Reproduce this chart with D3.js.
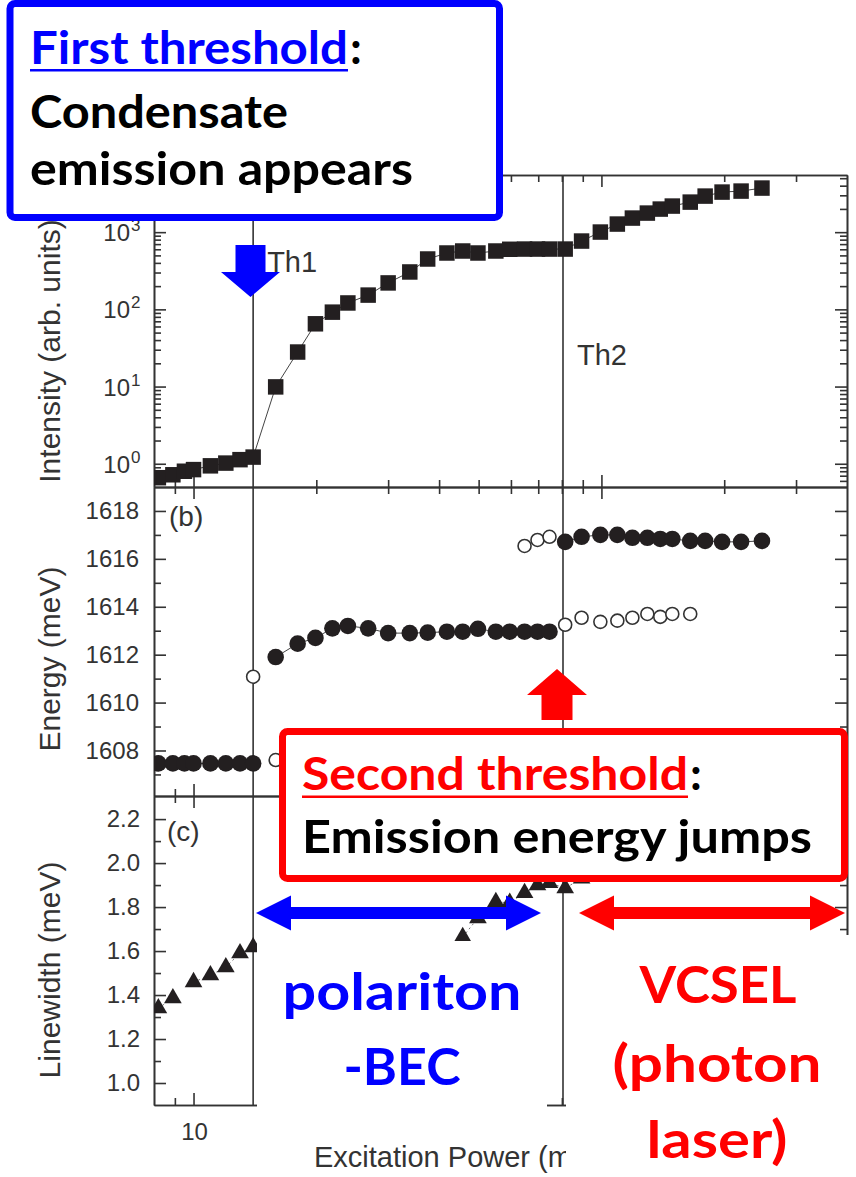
<!DOCTYPE html>
<html>
<head>
<meta charset="utf-8">
<script src="https://cdn.jsdelivr.net/npm/d3@7"></script>
<style>
  html, body { margin: 0; padding: 0; background: #fff; }
  svg { display: block; }
</style>
</head>
<body>
<div id="chart"></div>
<script>
// ---- data ----
const power = [8.2, 8.9, 9.5, 10.0, 11.0, 12.0, 13.0, 14.0, 15.9, 18.0, 19.9, 21.9, 23.9, 26.8, 30.0, 33.9,
  37.5, 41.8, 45.7, 49.8, 55.1, 59.6, 64.8, 69.7, 74.6, 81.5, 89.4, 99.4, 109.4, 119.1, 129.6, 139.4,
  149.2, 165.1, 179.6, 197.6, 220.0, 247.5];

const intensity = [0.66, 0.72, 0.80, 0.84, 0.94, 1.02, 1.13, 1.22, 9.9, 28, 65, 92, 121, 153, 220, 305,
  449, 537, 570, 537, 570, 600, 604, 604, 604, 604, 767, 1003, 1273, 1522, 1766, 1990,
  2177, 2450, 2931, 3304, 3404, 3724];

const energyFilled = [1607.46, 1607.46, 1607.46, 1607.46, 1607.46, 1607.46, 1607.46, 1607.46,
  1611.9, 1612.46, 1612.7, 1613.1, 1613.2, 1613.1, 1612.9, 1612.9, 1612.92, 1612.96, 1612.96,
  1613.08, 1612.96, 1612.96, 1612.96, 1612.96, 1612.96,
  1616.71, 1616.92, 1617.0, 1617.0, 1616.88, 1616.88, 1616.83, 1616.83, 1616.75, 1616.75,
  1616.71, 1616.71, 1616.75];

const energyOpen = [null, null, null, null, null, null, null, 1611.08, 1607.6, null, null, null, null, null, null, null,
  null, null, null, null, null, null, 1616.54, 1616.79, 1616.92, 1613.25, 1613.54, 1613.37, 1613.42, 1613.54, 1613.7, 1613.58,
  1613.7, 1613.7, null, null, null, null];

const linewidth = [1.34, 1.386, null, 1.459, 1.49, 1.527, 1.59, 1.618, null, null, null, null, null, null, null, null,
  null, null, 1.664, 1.75, 1.823, 1.82, 1.864, 1.9, 1.91, 1.886, 1.93, null, null, null, null, null,
  null, null, null, null, null, null];

const thresholds = [14, 80.5];
const thresholdNames = ["Th1", "Th2"];

const intensityTicks = [1, 10, 100, 1000];
const intensityExp = ["0", "1", "2", "3"];
const energyTicks = [1608, 1610, 1612, 1614, 1616, 1618];
const linewidthTicks = [1.0, 1.2, 1.4, 1.6, 1.8, 2.0, 2.2];
const powerTicks = [10, 100];
const powerMinor = [9, 20, 30, 40, 50, 60, 70, 80, 90, 200, 300];

// ---- layout ----
const W = 856, H = 1177;
const left = 154, right = 847;
const tops = [175, 487, 796], bottom = 1105;
const ink = "#333";
const figFont = "'Liberation Sans', Arial, sans-serif";
const noteFont = "Lato, 'Open Sans', sans-serif";
const blue = "#0000ff", red = "#ff0000";
const tickFont = 24;

const svg = d3.select("#chart").append("svg")
    .attr("width", W).attr("height", H)
    .attr("viewBox", `0 0 ${W} ${H}`);

const x = d3.scaleLog().domain([8, 400]).range([left, right]);
const yA = d3.scaleLog().domain([0.5, 5500]).range([tops[1], tops[0]]);
const yB = d3.scaleLinear().domain([1606.1, 1619]).range([tops[2], tops[1]]);
const yC = d3.scaleLinear().domain([0.9, 2.305]).range([bottom, tops[2]]);

const logMinor = [];
[0.1, 1, 10, 100, 1000].forEach(d => d3.range(2, 10).forEach(k => {
  const v = d * k;
  if (v > 0.5 && v < 5500) logMinor.push(v);
}));

// clip paths per panel
const defs = svg.append("defs");
[[tops[0], tops[1]], [tops[1], tops[2]], [tops[2], bottom]].forEach((p, i) => {
  defs.append("clipPath").attr("id", "clip" + i)
    .append("rect").attr("x", left).attr("y", p[0]).attr("width", right - left).attr("height", p[1] - p[0]);
});

function frame(y, yMajor, yMinor, top, bot) {
  const g = svg.append("g").attr("color", ink).attr("stroke-width", 1.6);
  const opts = (ax, vals, len) => ax.tickValues(vals).tickSize(-len).tickSizeOuter(0).tickFormat("");
  g.append("g").attr("transform", `translate(0,${bot})`).call(opts(d3.axisBottom(x), powerMinor, 7));
  g.append("g").attr("transform", `translate(0,${bot})`).call(opts(d3.axisBottom(x), powerTicks, 12));
  g.append("g").attr("transform", `translate(0,${top})`).call(opts(d3.axisTop(x), powerMinor, 7));
  g.append("g").attr("transform", `translate(0,${top})`).call(opts(d3.axisTop(x), powerTicks, 12));
  g.append("g").attr("transform", `translate(${left},0)`).call(opts(d3.axisLeft(y), yMinor, 7));
  g.append("g").attr("transform", `translate(${left},0)`).call(opts(d3.axisLeft(y), yMajor, 12));
  g.append("g").attr("transform", `translate(${right},0)`).call(opts(d3.axisRight(y), yMinor, 7));
  g.append("g").attr("transform", `translate(${right},0)`).call(opts(d3.axisRight(y), yMajor, 12));
  g.selectAll("path.domain").attr("stroke-width", 1.6);
  return g;
}

frame(yA, intensityTicks, logMinor, tops[0], tops[1]);
frame(yB, energyTicks, [1607, 1609, 1611, 1613, 1615, 1617], tops[1], tops[2]);
frame(yC, linewidthTicks, [1.1, 1.3, 1.5, 1.7, 1.9, 2.1], tops[2], bottom);

// tick labels
const lab = svg.append("g").attr("font-family", figFont).attr("fill", ink);
intensityTicks.forEach((v, i) => {
  lab.append("text").attr("x", 130).attr("y", yA(v) + 9).attr("text-anchor", "end")
    .attr("font-size", tickFont).text("10");
  lab.append("text").attr("x", 131).attr("y", yA(v) - 1).attr("font-size", 17).text(intensityExp[i]);
});
energyTicks.forEach(v => {
  lab.append("text").attr("x", 139).attr("y", yB(v)).attr("dy", "0.35em").attr("text-anchor", "end")
    .attr("font-size", tickFont).text(v);
});
linewidthTicks.forEach(v => {
  lab.append("text").attr("x", 140).attr("y", yC(v)).attr("dy", "0.35em").attr("text-anchor", "end")
    .attr("font-size", tickFont).text(d3.format(".1f")(v));
});
powerTicks.forEach(v => {
  lab.append("text").attr("x", x(v) + 1).attr("y", bottom + 35).attr("text-anchor", "middle")
    .attr("font-size", tickFont).text(v);
});

// axis titles
[["Intensity (arb. units)", 351], ["Energy (meV)", 659], ["Linewidth (meV)", 970]].forEach(([t, cy]) => {
  lab.append("text").attr("transform", `translate(60,${cy}) rotate(-90)`)
    .attr("text-anchor", "middle").attr("font-size", 30).text(t);
});
lab.append("text").attr("x", 314).attr("y", 1167).attr("font-size", 29).text("Excitation Power (mW)");
lab.append("text").attr("x", 169).attr("y", 526).attr("font-size", 28).text("(b)");
lab.append("text").attr("x", 167).attr("y", 841).attr("font-size", 28).text("(c)");

// threshold lines
svg.append("g").selectAll("line").data(thresholds).join("line")
    .attr("x1", d => x(d)).attr("x2", d => x(d))
    .attr("y1", tops[0]).attr("y2", bottom)
    .attr("stroke", ink).attr("stroke-width", 1.6);
lab.append("text").attr("x", x(thresholds[0]) + 14).attr("y", 272).attr("font-size", 29).text(thresholdNames[0]);
lab.append("text").attr("x", x(thresholds[1]) + 14).attr("y", 365).attr("font-size", 29).text(thresholdNames[1]);

// ---- data marks ----
const pts = (vals) => power.map((p, i) => ({ p, v: vals[i] })).filter(d => d.v != null);
const all = (vals) => power.map((p, i) => ({ p, v: vals[i] }));

// (a) intensity
const gA = svg.append("g").attr("clip-path", "url(#clip0)");
gA.append("path").datum(pts(intensity))
    .attr("fill", "none").attr("stroke", "#444").attr("stroke-width", 1)
    .attr("d", d3.line().x(d => x(d.p)).y(d => yA(d.v)));
gA.selectAll("path.sq").data(pts(intensity)).join("path").attr("class", "sq")
    .attr("transform", d => `translate(${x(d.p)},${yA(d.v)})`)
    .attr("d", d3.symbol(d3.symbolSquare, 240))
    .attr("fill", "#231f20");

// (b) energy
const gB = svg.append("g").attr("clip-path", "url(#clip1)");
const filledPts = pts(energyFilled);
gB.selectAll("line.seg").data(d3.pairs(filledPts).filter(([a, b]) => Math.abs(a.v - b.v) < 1)).join("line")
    .attr("class", "seg")
    .attr("x1", d => x(d[0].p)).attr("y1", d => yB(d[0].v))
    .attr("x2", d => x(d[1].p)).attr("y2", d => yB(d[1].v))
    .attr("stroke", "#444").attr("stroke-width", 1);
gB.selectAll("circle.open").data(pts(energyOpen)).join("circle").attr("class", "open")
    .attr("cx", d => x(d.p)).attr("cy", d => yB(d.v)).attr("r", 6.5)
    .attr("fill", "#fff").attr("stroke", "#333").attr("stroke-width", 1.6);
gB.selectAll("circle.full").data(filledPts).join("circle").attr("class", "full")
    .attr("cx", d => x(d.p)).attr("cy", d => yB(d.v)).attr("r", 8.3)
    .attr("fill", "#231f20");

// (c) linewidth
const gC = svg.append("g").attr("clip-path", "url(#clip2)");
gC.append("path").datum(all(linewidth))
    .attr("fill", "none").attr("stroke", "#555").attr("stroke-width", 0.8).attr("stroke-dasharray", "2,3")
    .attr("d", d3.line().defined(d => d.v != null).x(d => x(d.p)).y(d => yC(d.v)));
gC.selectAll("path.tri").data(pts(linewidth)).join("path").attr("class", "tri")
    .attr("transform", d => `translate(${x(d.p)},${yC(d.v)})`)
    .attr("d", d3.symbol(d3.symbolTriangle, 135))
    .attr("fill", "#231f20");

// white cover patches over the lower panel
svg.append("rect").attr("x", 257).attr("y", 941).attr("width", 290).attr("height", 169).attr("fill", "#fff");
svg.append("rect").attr("x", 566).attr("y", 935).attr("width", W - 566).attr("height", H - 935).attr("fill", "#fff");

// ---- annotations ----
svg.append("rect").attr("x", 10).attr("y", 3.5).attr("width", 489.5).attr("height", 214).attr("rx", 5)
    .attr("fill", "#fff").attr("stroke", blue).attr("stroke-width", 7);
svg.append("rect").attr("x", 282.5).attr("y", 731.5).attr("width", 562).attr("height", 147).attr("rx", 5)
    .attr("fill", "#fff").attr("stroke", red).attr("stroke-width", 7);

function note(t, xx, yy, size, color, width, anchor) {
  const s = svg.append("text").attr("x", xx).attr("y", yy)
      .attr("font-family", noteFont).attr("font-weight", 700)
      .attr("font-size", size).attr("fill", color)
      .attr("text-anchor", anchor || "start").text(t);
  if (width) s.attr("textLength", width).attr("lengthAdjust", "spacingAndGlyphs");
  return s;
}

note("First threshold", 30, 64, 46, blue, 318);
svg.append("rect").attr("x", 30).attr("y", 69).attr("width", 318).attr("height", 2.5).attr("fill", blue);
note(":", 350, 64, 46, "#000");
note("Condensate", 30, 128, 46, "#000", 258);
note("emission appears", 30, 185, 46, "#000", 383);

note("Second threshold", 302, 790, 46, red, 386);
svg.append("rect").attr("x", 302).attr("y", 795.5).attr("width", 386).attr("height", 2.5).attr("fill", red);
note(":", 690, 790, 46, "#000");
note("Emission energy jumps", 302, 853, 46, "#000", 510);

note("polariton", 402, 1010, 52, blue, 239, "middle");
note("-BEC", 402, 1085, 52, blue, 117, "middle");
note("VCSEL", 718, 1003, 52, red, 157, "middle");
note("(photon", 717, 1082, 52, red, 209, "middle");
note("laser)", 717, 1158, 52, red, 141, "middle");

// arrows
function doubleArrow(x1, x2, yc, color) {
  const h = 35, hh = 17.5, sh = 6;
  const p = d3.path();
  p.moveTo(x1, yc); p.lineTo(x1 + h, yc - hh); p.lineTo(x1 + h, yc - sh);
  p.lineTo(x2 - h, yc - sh); p.lineTo(x2 - h, yc - hh); p.lineTo(x2, yc);
  p.lineTo(x2 - h, yc + hh); p.lineTo(x2 - h, yc + sh); p.lineTo(x1 + h, yc + sh);
  p.lineTo(x1 + h, yc + hh); p.closePath();
  svg.append("path").attr("d", p.toString()).attr("fill", color);
}
doubleArrow(256, 541, 913, blue);
doubleArrow(579, 845, 913, red);

function blockArrow(cx, tipY, headY, endY, headHalf, shaftHalf, color) {
  const p = d3.path();
  p.moveTo(cx, tipY); p.lineTo(cx + headHalf, headY); p.lineTo(cx + shaftHalf, headY);
  p.lineTo(cx + shaftHalf, endY); p.lineTo(cx - shaftHalf, endY); p.lineTo(cx - shaftHalf, headY);
  p.lineTo(cx - headHalf, headY); p.closePath();
  svg.append("path").attr("d", p.toString()).attr("fill", color);
}
blockArrow(250.5, 297, 272, 245, 29.5, 15, blue);
blockArrow(557, 669, 695, 720, 30, 15.5, red);
</script>
</body>
</html>
